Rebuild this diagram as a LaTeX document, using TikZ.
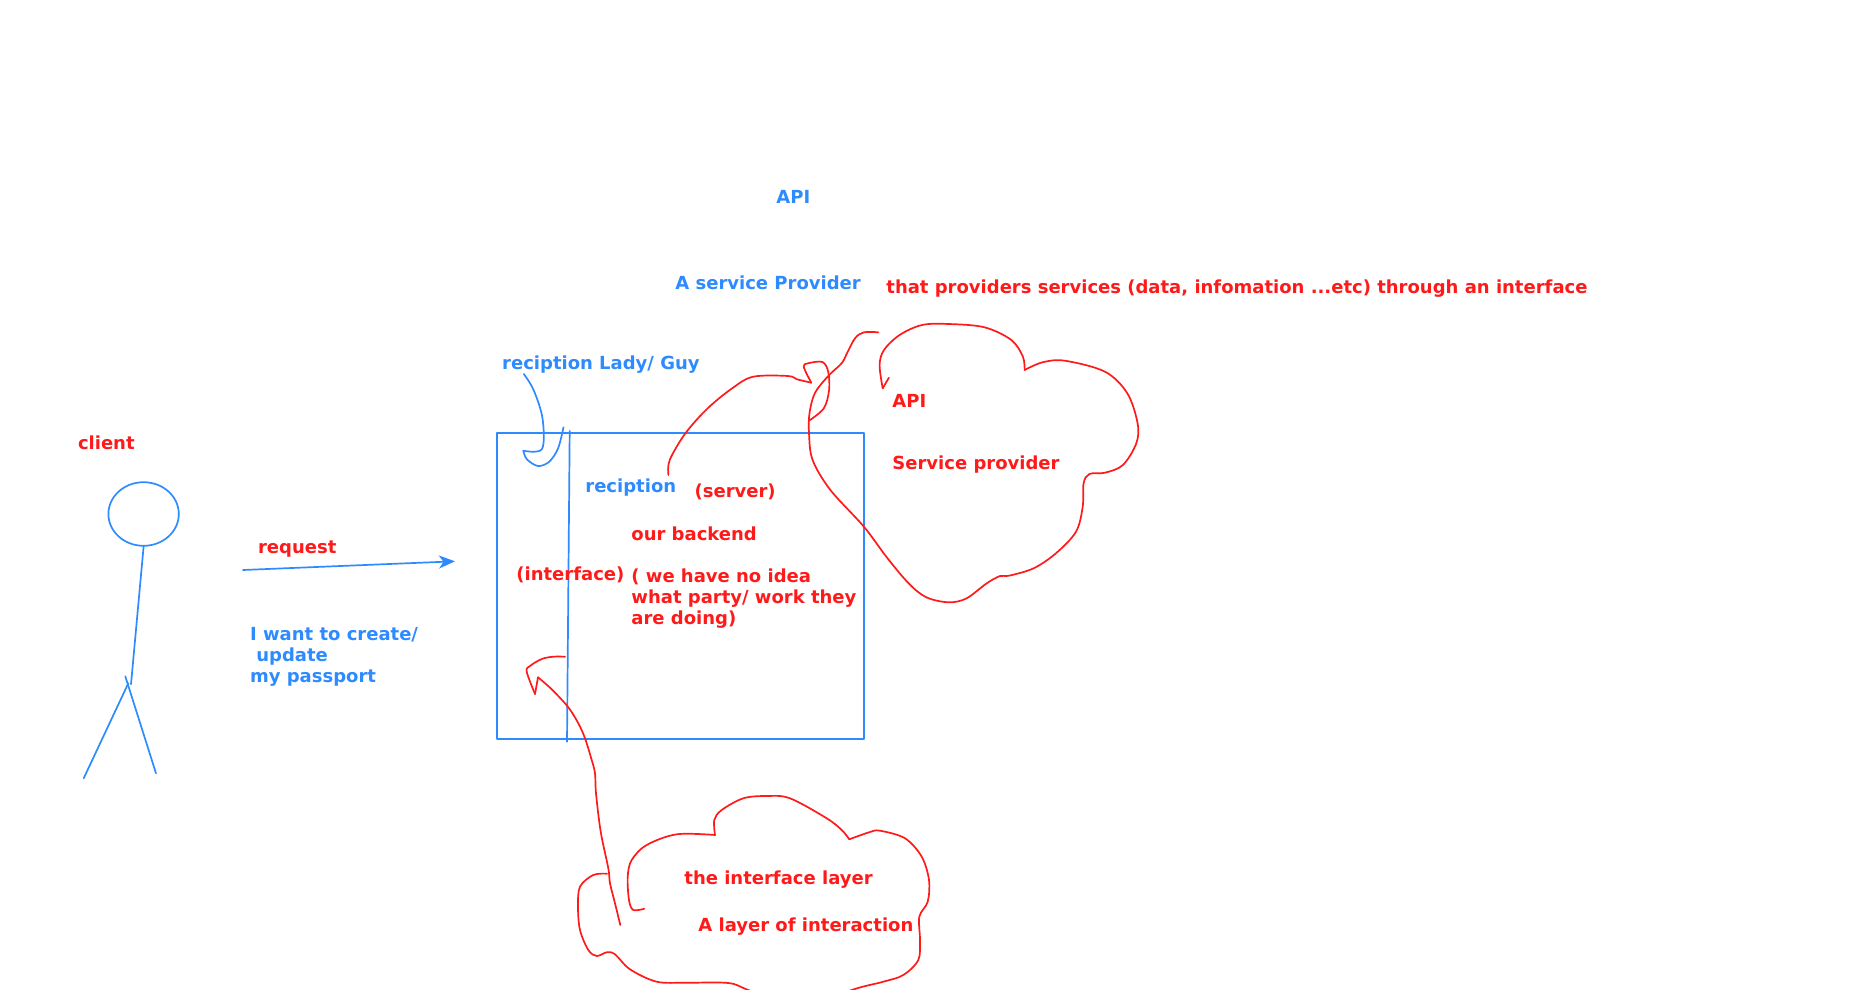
\documentclass[tikz,border=0pt]{standalone}
\usepackage{fontspec}
\setmainfont{DejaVu Sans}
\usetikzlibrary{arrows.meta,shapes.geometric}
\definecolor{penblue}{HTML}{2E8BFF}
\definecolor{penred}{HTML}{FF1A1A}
\tikzset{
  bluestroke/.style={draw=penblue, line width=.85pt, line cap=round, line join=round},
  redstroke/.style={draw=penred, line width=.85pt, line cap=round, line join=round},
  scribble/.style={smooth, tension=.55},
  redlabel/.style={text=penred, anchor=base west, inner sep=0pt, align=left,
    font=\fontsize{9}{10.5}\selectfont\bfseries},
  bluelabel/.style={redlabel, text=penblue}
}
\begin{document}
\begin{tikzpicture}[x=.5pt,y=-.5pt]
\useasboundingbox (0,0) rectangle (1873,990);

% Stick figure on the left.
\node[bluestroke, shape=ellipse, inner sep=0pt, minimum width=35.2pt,
  minimum height=31.8pt] (head) at (143.6,514) {};
\coordinate (hip) at (131,684.3);
\draw[bluestroke] (head.south) -- (hip);
\draw[bluestroke] (128.3,683.3) -- (83.7,778.3);
\draw[bluestroke] (125.3,676.3) -- (156,773.3);
\node[redlabel] (client) at (77.6,449) {client};

% The request going in.
\coordinate (reqstart) at (243,570);
\coordinate (reqend) at (455,561.3);
\draw[bluestroke, -{Stealth[length=8pt,width=6.5pt,inset=2.2pt]}] (reqstart) -- (reqend);
\node[redlabel] (request) at (257.7,553.3) {request};
\node[bluelabel] (passport) at (249.7,682.5) {I want to create/\\ \ update\\my passport};

% Building: front desk on the left of the thin line.
\node[bluestroke, minimum width=183.5pt, minimum height=152.85pt, inner sep=0pt]
  (building) at (680.5,585.85) {};
\coordinate (desktop) at (569.7,431);
\coordinate (deskbottom) at (567,741.7);
\draw[bluestroke] (desktop) -- (deskbottom);
\node[bluelabel] (ladyguy) at (501.8,369) {reciption Lady/ Guy};
\draw[bluestroke] plot[scribble] coordinates {(523.8,374) (533.6,390)
  (542.5,418.3) (542,449) (523.3,450.7)};
\draw[bluestroke] plot[scribble] coordinates {(523.3,450.7) (526.9,459.3)
  (538,466) (549.2,461.7) (558.1,448.3) (563.5,427.3)};
\node[bluelabel] (reciption) at (585,492.7) {reciption};
\node[redlabel] (server) at (694.2,497.7) {(server)};
\node[redlabel] (backend) at (631,540) {our backend};
\node[redlabel] (interface) at (516,580) {(interface)};
\node[redlabel] (noidea) at (631,624) {( we have no idea\\what party/ work they\\are doing)};

% Headings above.
\node[bluelabel] (apititle) at (776,203) {API};
\node[bluelabel] (provider) at (675,289) {A service Provider};
\node[redlabel] (through) at (886,293)
  {that providers services (data, infomation ...etc) through an interface};

% Upper cloud.
\draw[redstroke] plot[scribble] coordinates {(878.2,332.3) (863.9,332.3)
  (855,338.3) (847,353.3) (841.6,363.3) (828.2,376) (814.8,393.3)
  (809.5,413.3) (809,433.3) (812.6,460) (830.4,490) (863.9,526.7)
  (886.3,556.7) (908.6,583.3) (926.4,597.3) (948.8,602.3) (966.6,598.3)
  (986.7,583.3) (1000.1,576) (1009,575.7) (1033.6,568.3) (1055.9,553.3)
  (1076,531.7) (1082.7,506.7) (1083.6,483.3) (1089.4,474) (1105,472.7)
  (1122.9,465) (1136.3,443.3) (1137.6,423.3) (1127.3,393.3) (1105,371.7)
  (1064.8,360.7) (1042.5,362.3) (1024.6,370)};
\draw[redstroke] plot[scribble] coordinates {(1024.6,370) (1022.9,356.7)
  (1011.3,340) (984.5,327.3) (948.8,324) (922,325) (899.6,335)
  (884,350) (879.6,365) (882.7,388.3)};
\draw[redstroke] (882.7,388.3) -- (888.9,377.7);
\node[redlabel] (apired) at (892,407.7) {API};
\node[redlabel] (service) at (892,469) {Service provider};

% Line from the backend up to the cloud.
\draw[redstroke] plot[scribble] coordinates {(668.4,475) (669.7,460)
  (685.4,433.3) (707.7,408.3) (732.2,388.3) (753.2,376.7) (788,376)
  (797,379.3) (811.3,382.7)};
\draw[redstroke] plot[scribble] coordinates {(811.3,382.7) (803.7,366.7)
  (808.1,363.3) (822.4,362) (828.2,371.7) (829.1,390) (823.8,408.3) (809,420.7)};

% Lower cloud and its arrow to the front desk.
\draw[redstroke] plot[scribble] coordinates {(620.3,925) (615,903.3) (610,883.3)
  (608.3,868.3) (600.7,831.7) (596,793.3) (595,773.3) (591.7,760) (585,738.3)
  (578.3,723.3) (568.3,707.3) (551.7,689.3) (538,677.3)};
\draw[redstroke] (538,677.3) -- (535,694);
\draw[redstroke] plot[scribble] coordinates {(535,694) (526.7,671.7) (530,666)
  (541.7,659) (553.3,656.7) (565,656.7)};
\draw[redstroke] plot[scribble] coordinates {(607,873.7) (593.3,875) (580,886.7)
  (578,906.7) (580,930) (588.3,950) (596.7,956) (606.7,952.3) (615,954.3)
  (630,969.3) (656.7,981.7) (686.7,982.7) (728.3,983) (748.3,990) (800,1010)
  (851.7,990) (883.3,981.7) (903.3,975) (918.3,960) (920,940) (919.3,916.7)
  (927.7,901.7) (929,880) (921.7,856.7) (905,838.3) (880,830.7) (870,832)
  (849.3,839.3)};
\draw[redstroke] plot[scribble] coordinates {(849.3,839.3) (841.7,830)
  (826.7,818.3) (790,798.3) (766.7,796) (743.3,798.3) (721.7,810) (714.3,820)
  (715,835)};
\draw[redstroke] plot[scribble] coordinates {(715,835) (676.7,834.3) (646.7,845)
  (631.7,860) (627.7,876.7) (629,900) (633.3,910) (644.3,908.7)};
\node[redlabel] (layer) at (684,884.3) {the interface layer};
\node[redlabel] (interaction) at (698,931.5) {A layer of interaction};
\end{tikzpicture}
\end{document}
